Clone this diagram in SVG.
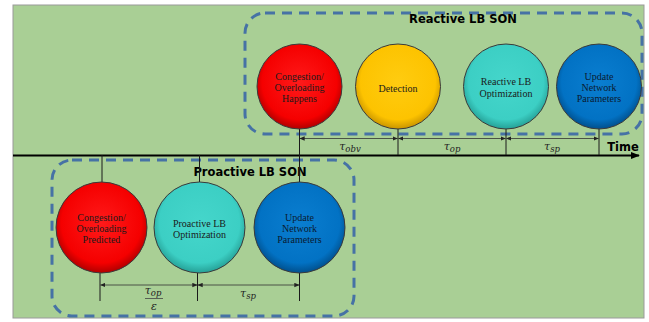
<svg xmlns="http://www.w3.org/2000/svg" width="649" height="322" viewBox="0 0 649 322">
<defs>
<radialGradient id="gRed" cx="50%" cy="45%" r="55%"><stop offset="0" stop-color="#ff1a1a"/><stop offset="0.8" stop-color="#f50000"/><stop offset="1" stop-color="#b00000"/></radialGradient>
<radialGradient id="gYel" cx="50%" cy="45%" r="55%"><stop offset="0" stop-color="#ffcc10"/><stop offset="0.8" stop-color="#fdc300"/><stop offset="1" stop-color="#c89400"/></radialGradient>
<radialGradient id="gCyan" cx="50%" cy="45%" r="55%"><stop offset="0" stop-color="#45d6cb"/><stop offset="0.8" stop-color="#3ccfc4"/><stop offset="1" stop-color="#25a096"/></radialGradient>
<radialGradient id="gBlue" cx="50%" cy="45%" r="55%"><stop offset="0" stop-color="#0a7ed0"/><stop offset="0.8" stop-color="#0272c4"/><stop offset="1" stop-color="#004f8c"/></radialGradient>
<marker id="ah" viewBox="0 0 8 8" refX="7.5" refY="4" markerWidth="5" markerHeight="5" orient="auto-start-reverse" markerUnits="userSpaceOnUse"><path d="M0,0.5 L8,4 L0,7.5 Z" fill="#222"/></marker>
<marker id="ta" viewBox="0 0 10 10" refX="9" refY="5" markerWidth="9" markerHeight="9" orient="auto" markerUnits="userSpaceOnUse"><path d="M0,1 L10,5 L0,9 Z" fill="#000"/></marker>
<style>
.circ{stroke:#3a3a3a;stroke-width:1}
.ct{font-family:"Liberation Serif","Times New Roman",serif;font-size:10px;fill:#1a1a1a;text-anchor:middle}
.cw{font-family:"Liberation Serif","Times New Roman",serif;font-size:10px;fill:#0a1a30;text-anchor:middle}
.box{fill:none;stroke:#4672a5;stroke-width:3;stroke-dasharray:10 7}
.ttl{font-family:"DejaVu Sans","Liberation Sans",sans-serif;font-weight:bold;font-size:11.5px;fill:#000;text-anchor:middle}
.vl{stroke:#1a1a1a;stroke-width:1;fill:none}
.dim{stroke:#333;stroke-width:0.8;fill:none;marker-start:url(#ah);marker-end:url(#ah)}
.tau{font-family:"DejaVu Serif","Liberation Serif",serif;font-style:italic;font-size:11px;fill:#222;text-anchor:middle}
.sub{font-size:8.5px}
</style>
</defs>
<rect x="13" y="5" width="631" height="313" fill="#a9cf95" stroke="#9a9a9a" stroke-width="1"/>
<g id="reactive-box"><rect class="box" x="245" y="13" width="397" height="121" rx="20" ry="20"/><text class="ttl" x="463" y="23">Reactive LB SON</text></g>
<g id="proactive-box"><rect class="box" x="52" y="160" width="302" height="156" rx="20" ry="20"/><text class="ttl" x="250" y="176">Proactive LB SON</text></g>
<g id="connectors">
<line x1="13" y1="155.5" x2="639" y2="155.5" stroke="#000" stroke-width="2" marker-end="url(#ta)"/>
<line class="vl" x1="299.5" y1="129" x2="299.5" y2="182"/>
<line class="vl" x1="398" y1="129" x2="398" y2="155"/>
<line class="vl" x1="506" y1="129" x2="506" y2="155"/>
<line class="vl" x1="599" y1="129" x2="599" y2="155"/>
<line class="vl" x1="102" y1="155" x2="102" y2="182"/>
<line class="vl" x1="199.5" y1="155" x2="199.5" y2="182"/>
<line class="vl" x1="100" y1="273" x2="100" y2="301"/>
<line class="vl" x1="197.5" y1="273" x2="197.5" y2="301"/>
<line class="vl" x1="299.5" y1="273" x2="299.5" y2="301"/>
<line class="dim" x1="300" y1="138.5" x2="397.5" y2="138.5"/>
<line class="dim" x1="398.5" y1="138.5" x2="505.5" y2="138.5"/>
<line class="dim" x1="506.5" y1="138.5" x2="598.5" y2="138.5"/>
<line class="dim" x1="100.5" y1="285" x2="197" y2="285"/>
<line class="dim" x1="198" y1="285" x2="299" y2="285"/>
<text class="tau" x="350" y="150">τ<tspan class="sub" dy="2">obv</tspan></text>
<text class="tau" x="452" y="150">τ<tspan class="sub" dy="2">op</tspan></text>
<text class="tau" x="552" y="150">τ<tspan class="sub" dy="2">sp</tspan></text>
<text class="tau" x="153" y="294">τ<tspan class="sub" dy="2">op</tspan></text>
<line x1="145" y1="298.5" x2="163" y2="298.5" stroke="#444" stroke-width="0.8"/>
<text class="tau" x="154" y="310">ε</text>
<text class="tau" x="248" y="297">τ<tspan class="sub" dy="2">sp</tspan></text>
<text class="ttl" x="623" y="151">Time</text>
</g>
<g id="r-congestion"><circle class="circ" cx="299.5" cy="86.5" r="42.5" fill="url(#gRed)"/><text class="ct" x="299.5" y="80">Congestion/</text><text class="ct" x="299.5" y="91">Overloading</text><text class="ct" x="299.5" y="102">Happens</text></g>
<g id="r-detection"><circle class="circ" cx="398" cy="86.5" r="42.5" fill="url(#gYel)"/><text class="ct" x="398" y="91.5">Detection</text></g>
<g id="r-optimization"><circle class="circ" cx="506" cy="86.5" r="42.5" fill="url(#gCyan)"/><text class="ct" x="506" y="85">Reactive  LB</text><text class="ct" x="506" y="96.5">Optimization</text></g>
<g id="r-update"><circle class="circ" cx="599" cy="86.5" r="42.5" fill="url(#gBlue)"/><text class="cw" x="599" y="80">Update</text><text class="cw" x="599" y="91">Network</text><text class="cw" x="599" y="102">Parameters</text></g>
<g id="p-congestion"><circle class="circ" cx="101.5" cy="227.5" r="45.5" fill="url(#gRed)"/><text class="ct" x="101.5" y="221">Congestion/</text><text class="ct" x="101.5" y="232">Overloading</text><text class="ct" x="101.5" y="243">Predicted</text></g>
<g id="p-optimization"><circle class="circ" cx="199.5" cy="227.5" r="45.5" fill="url(#gCyan)"/><text class="ct" x="199.5" y="226.5">Proactive  LB</text><text class="ct" x="199.5" y="237.5">Optimization</text></g>
<g id="p-update"><circle class="circ" cx="299.5" cy="227.5" r="45.5" fill="url(#gBlue)"/><text class="cw" x="299.5" y="221">Update</text><text class="cw" x="299.5" y="232">Network</text><text class="cw" x="299.5" y="243">Parameters</text></g>
</svg>
